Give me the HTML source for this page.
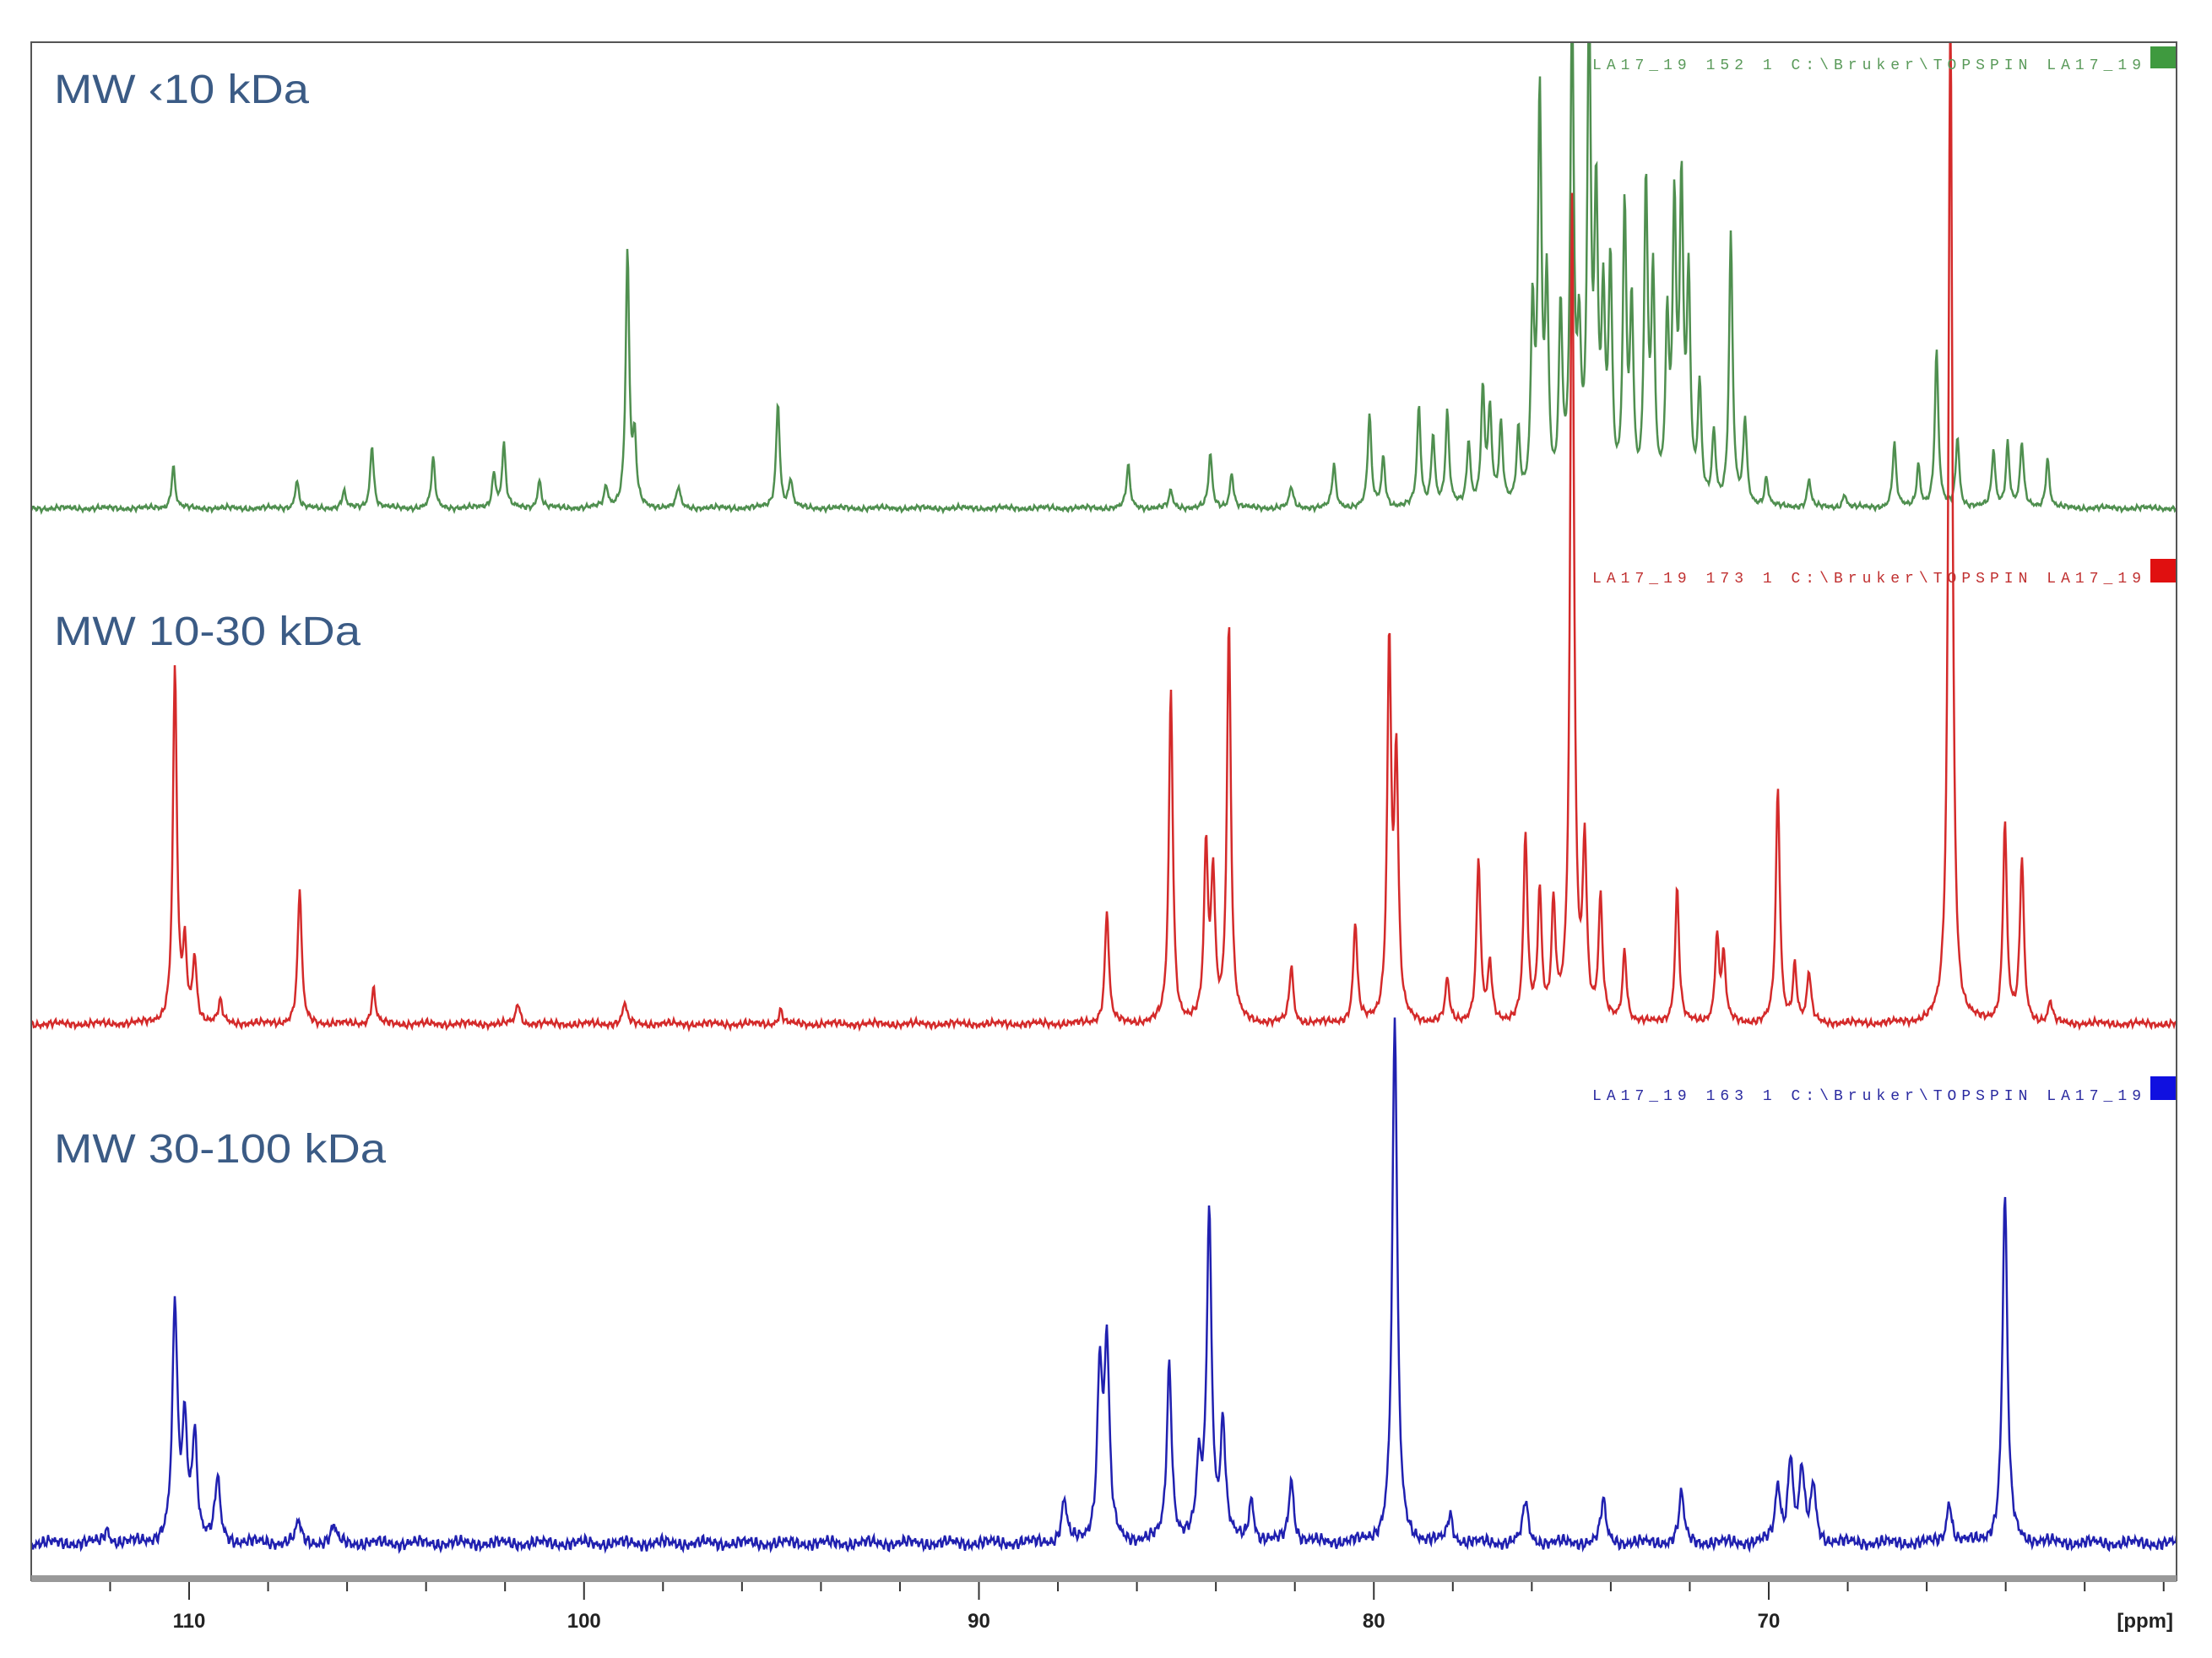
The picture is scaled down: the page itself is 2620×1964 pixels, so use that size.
<!DOCTYPE html>
<html><head><meta charset="utf-8"><style>
html,body{margin:0;padding:0;background:#fff}
svg{display:block}
.lbl{font-family:"Liberation Sans",sans-serif;font-size:48px;fill:#3b5b85}
.tag{font-family:"Liberation Mono",monospace;font-size:18px}
.tick{font-family:"Liberation Sans",sans-serif;font-size:24px;font-weight:bold;fill:#222}
</style></head><body>
<svg id="chart" width="2620" height="1964" viewBox="0 0 2620 1964">
<defs><clipPath id="clip"><rect x="37" y="50" width="2541" height="1822"/></clipPath></defs>
<rect x="0" y="0" width="2620" height="1964" fill="#fff"/>
<g id="plot" clip-path="url(#clip)"></g>
<rect x="37" y="50" width="2541" height="1822" fill="none" stroke="#555" stroke-width="2"/>
<rect x="37" y="1866" width="2541" height="8" fill="#999"/>
<g id="axis"></g>
<text class="lbl" x="64" y="122" textLength="302" lengthAdjust="spacingAndGlyphs">MW ‹10 kDa</text>
<text class="lbl" x="64" y="764" textLength="363" lengthAdjust="spacingAndGlyphs">MW 10-30 kDa</text>
<text class="lbl" x="64" y="1377" textLength="393" lengthAdjust="spacingAndGlyphs">MW 30-100 kDa</text>
<text class="tag" x="1886" y="82" textLength="650" fill="#5a9a5a">LA17_19   152   1   C:\Bruker\TOPSPIN   LA17_19</text>
<rect x="2547" y="55" width="30" height="26" fill="#3f9a3f"/>
<text class="tag" x="1886" y="690" textLength="650" fill="#c03030">LA17_19   173   1   C:\Bruker\TOPSPIN   LA17_19</text>
<rect x="2547" y="662" width="30" height="28" fill="#e01010"/>
<text class="tag" x="1886" y="1303" textLength="650" fill="#2a2aa0">LA17_19   163   1   C:\Bruker\TOPSPIN   LA17_19</text>
<rect x="2547" y="1275" width="30" height="28" fill="#1010e0"/>
</svg>
<script>
const greenPpm=[110.40,107.27,106.08,105.37,103.82,102.28,102.03,101.13,99.44,98.90,98.72,97.61,95.09,94.77,86.22,85.14,84.14,83.60,82.09,81.01,80.11,79.76,78.86,78.50,78.14,77.60,77.24,77.06,76.78,76.34,75.98,75.80,75.62,75.27,74.98,74.80,74.55,74.37,74.19,74.01,73.65,73.47,73.11,72.93,72.57,72.39,72.21,72.03,71.75,71.39,70.96,70.60,70.06,68.98,68.08,66.82,66.21,65.75,65.22,64.31,63.95,63.59,62.94];
const greenInt=[30,20,12,45,35,25,45,20,15,180,45,15,75,20,30,12,38,25,15,30,65,35,70,50,65,45,80,65,55,50,130,280,145,130,340,100,340,200,130,160,200,130,220,150,120,200,215,150,80,50,190,60,20,20,10,45,30,110,50,40,45,45,35];
const redPpm=[110.36,110.11,109.86,109.21,107.20,105.33,101.67,98.97,95.02,86.76,85.14,84.25,84.07,83.67,82.09,80.47,79.61,79.43,78.14,77.35,77.06,76.16,75.80,75.45,74.98,74.66,74.26,73.65,72.32,71.31,71.14,69.77,69.34,68.98,65.40,64.02,63.59,62.87];
const redInt=[250,50,45,15,95,25,15,15,10,80,235,120,100,280,40,70,265,180,30,115,40,130,90,80,580,120,85,50,95,60,45,165,40,35,720,140,115,15];
const bluePpm=[112.08,110.36,110.11,109.86,109.28,107.23,106.34,87.84,86.94,86.76,85.18,84.43,84.17,83.82,83.10,82.09,79.47,78.07,76.16,74.19,72.21,69.77,69.45,69.16,68.87,65.43,64.02];
const blueInt=[10,165,80,75,45,15,12,30,120,135,125,50,230,80,30,45,370,20,30,30,35,40,60,50,40,30,245];
const majorTicks=[110,100,90,80,70];

const X0=224, PX=46.775, SCALE=1.68;
function xScale(p){return X0+(110-p)*PX;}
const NS='http://www.w3.org/2000/svg';
const plot=document.getElementById('plot');
function noise(x,s){return Math.sin(x*0.9+s)*0.5+Math.sin(x*2.3+s*2)*0.35+Math.sin(x*5.1+s*3)*0.3+Math.sin(x*0.13+s)*0.4;}
function spectrum(ppm,ints,base,w,col,amp,seed,name){
  let d='';
  const px=ppm.map(xScale);
  for(let x=37;x<=2578;x++){
    let s=0;
    for(let i=0;i<px.length;i++){const u=(x-px[i])/w;s+=ints[i]*SCALE/(1+u*u);}
    const y=base-s+amp*noise(x,seed);
    d+=(x===37?'M':'L')+x+' '+y.toFixed(1);
  }
  const p=document.createElementNS(NS,'path');
  p.setAttribute('d',d);p.setAttribute('fill','none');p.setAttribute('stroke',col);p.setAttribute('stroke-width','2.5');
  
  
  plot.appendChild(p);
}
spectrum(greenPpm,greenInt,602,2.5,'#4f8f4f',3,1,'green-spectrum-line');
spectrum(redPpm,redInt,1213,2.8,'#d42a2a',4,2,'red-spectrum-line');
spectrum(bluePpm,blueInt,1828,3.5,'#2020b0',7,3,'blue-spectrum-line');

const axis=document.getElementById('axis');
for(let p=112;p>=60;p-=2){
  const x=xScale(p);
  const t=document.createElementNS(NS,'line');
  t.setAttribute('x1',x);t.setAttribute('x2',x);t.setAttribute('y1',1874);t.setAttribute('y2',majorTicks.includes(p)?1895:1885);
  t.setAttribute('stroke','#333');t.setAttribute('stroke-width','2');
  
  
  axis.appendChild(t);
}
majorTicks.forEach(p=>{
  const t=document.createElementNS(NS,'text');
  t.setAttribute('x',xScale(p));t.setAttribute('y',1928);t.setAttribute('text-anchor','middle');t.setAttribute('class','tick');
  t.textContent=p;
  
  
  axis.appendChild(t);
});
const u=document.createElementNS(NS,'text');
u.setAttribute('x',2574);u.setAttribute('y',1928);u.setAttribute('text-anchor','end');u.setAttribute('class','tick');
u.textContent='[ppm]';


axis.appendChild(u);
</script>
</body></html>
